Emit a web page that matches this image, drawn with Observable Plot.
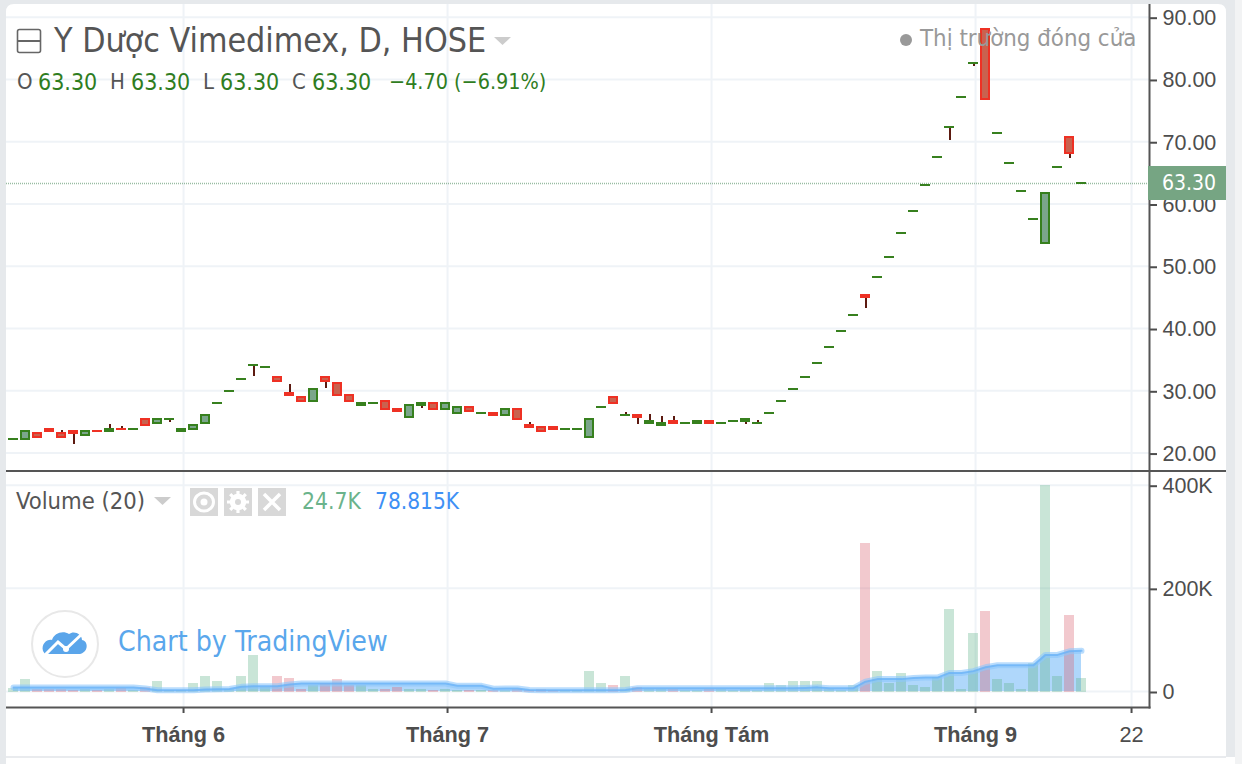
<!DOCTYPE html>
<html lang="vi">
<head>
<meta charset="utf-8">
<script src="https://cdn.jsdelivr.net/npm/d3@7"></script>
<script src="https://cdn.jsdelivr.net/npm/@observablehq/plot@0.6"></script>
<style>
html,body{margin:0;padding:0;background:#fff;overflow:hidden}
#page{position:relative;width:1242px;height:764px;overflow:hidden;background:#fff}
#page>*{position:absolute}
.t{white-space:nowrap;line-height:1;font-family:"DejaVu Sans Condensed","DejaVu Sans",sans-serif;font-stretch:condensed}
.g{color:#2f7d1f}.k{color:#555}
svg{display:block}
</style>
</head>
<body>
<div id="page"></div>
<script>
const opens  = [22.21,22.21,23.17,23.81,23.17,23.49,22.85,23.49,23.49,23.81,23.81,25.42,24.78,25.42,23.49,23.81,24.78,27.99,29.91,31.84,
  34.09,33.77,32.16,29.59,28.95,28.31,32.16,31.20,29.27,27.67,27.99,28.31,27.02,25.74,27.67,27.99,27.02,26.38,27.34,26.38,
  26.38,26.06,27.02,24.45,24.13,24.13,23.81,23.81,22.53,27.34,28.95,26.06,26.06,24.78,24.45,25.10,24.78,24.78,25.10,24.78,
  25.10,25.10,24.78,26.38,28.31,30.23,32.15,34.40,36.97,39.54,42.11,45.32,48.21,51.42,55.27,58.80,62.99,67.48,72.30,77.11,
  82.57,88.03,71.33,66.52,62.02,57.53,53.67,65.88,70.69,63.30];
const closes = [22.21,23.49,22.53,23.49,22.53,23.17,23.49,23.47,23.81,23.79,23.81,24.45,25.42,25.42,23.81,24.45,26.06,27.99,29.91,31.84,
  34.09,33.77,31.52,29.27,28.31,30.23,31.52,29.27,28.31,27.99,27.99,27.02,26.70,27.67,27.99,27.02,27.99,27.34,26.70,26.38,
  26.06,27.02,25.42,24.13,23.49,23.81,23.81,23.81,25.42,27.34,27.99,26.06,25.74,25.10,24.78,24.78,24.78,25.10,24.78,24.78,
  25.10,25.42,24.78,26.38,28.31,30.23,32.15,34.40,36.97,39.54,42.11,45.00,48.21,51.42,55.27,58.80,62.99,67.48,72.30,77.11,
  82.57,76.79,71.33,66.52,62.02,57.53,61.70,65.88,68.12,63.30];
const highWicks = [[4,23.65],[8,24.61],[9,24.29],[23,31.04],[43,24.94],[51,26.54],[53,26.22],[54,25.90],[55,25.90],[62,25.26]];
const lowWicks  = [[5,21.40],[13,24.94],[20,32.32],[26,30.39],[34,27.18],[52,24.62],[61,24.62],[71,43.23],[78,70.21],[80,82.09],[88,67.32]];
const volumes = [6.5,23,3,3,3,1,3,1,3,6.5,1,8,19,2,2,15,30,19,3,30,
  69,8,30,26,3,11,15,23,11,11,3,3,7,3,3,1,3,1,1,1,
  1,1,3,2,3,1,1,1,38,15,11,30,7,3,3,3,1,1,3,3,
  1,3,1,15,11,19,19,19,3,1,11,287,38,15,34,11,7,27,159,3,
  112,155,23,15,3,54,399,30,147,24.7];
const volumeMA = [7.8,7.8,7.8,7.8,7.8,7.8,7.8,7.8,7.8,7.8,7.8,6,2.6,2.6,2.6,2.6,4,4.5,5,9,
  10,10,10.4,13.6,15.5,15.5,15.5,15.5,15.5,15.5,15.5,15.5,15.5,15.5,15.5,15.5,15.5,11,11,11,
  5.5,5.8,5.8,3,2.6,2.6,2.6,2.6,2.6,2.6,2.6,3,6.5,6.5,6.5,6.5,6.5,6.5,6.5,6.5,
  6.5,6.5,6.5,6.5,6.5,6.5,7,8,6.5,6.5,6.5,19,24,24,24,26,27,27,36,36,
  39.5,47,51,51,51,51,71,71,78,78.8];
const priceTicks = [20,30,40,50,60,70,80,90];
const volumeTicks = [0,200,400];
const monthTicks = [14.17,36.17,58.17,80.17];
const monthLabels = ["Tháng 6","Tháng 7","Tháng Tám","Tháng 9"];
const dayTicks = [93.17];
const dayLabels = ["22"];
const lastPrice = 63.30;

const idx = d3.range(opens.length);
const down = i => closes[i] < opens[i];
const GREEN="#37801e", RED="#ee3124", GREENFILL="#7ba68b", REDFILL="#c9624f", INK="#4d4d4d", GRID="#eff3f7";
const AXISFONT='"Liberation Sans",Arial,sans-serif';
const xScale = {type:"linear",domain:[0,89],range:[13,1081]};
const allTicks = monthTicks.concat(dayTicks);
const halfOuter=5/12, halfInner=3/12;

const wickData = highWicks.map(([i,v])=>({i,from:Math.max(opens[i],closes[i]),to:v}))
  .concat(lowWicks.map(([i,v])=>({i,from:Math.min(opens[i],closes[i]),to:v})));

const axisCommon={anchor:"right",fontSize:21.5,tickSize:7,tickPadding:6,color:INK,strokeWidth:2};

const price = Plot.plot({
  width:1242,height:470,marginTop:0,marginBottom:0,marginLeft:6,marginRight:93,
  style:{background:"transparent",fontFamily:AXISFONT},
  x:Object.assign({},xScale,{axis:null}),
  y:{type:"linear",domain:[17.2,92.68],range:[470,0],axis:null},
  marks:[
    Plot.gridX({ticks:allTicks,stroke:GRID,strokeOpacity:1,strokeWidth:2}),
    Plot.gridY({ticks:priceTicks,stroke:GRID,strokeOpacity:1,strokeWidth:2}),
    Plot.ruleY([lastPrice],{stroke:"#76a583",strokeOpacity:.75,strokeWidth:1.5,strokeDasharray:"1 1"}),
    Plot.ruleX(wickData,{x:"i",y1:"from",y2:"to",stroke:"#5c1a10",strokeWidth:2,shapeRendering:"crispEdges"}),
    Plot.rect(idx,{x1:i=>i-halfOuter,x2:i=>i+halfOuter,y1:i=>opens[i],y2:i=>closes[i],
      fill:i=>down(i)?RED:GREEN,insetTop:-1,insetBottom:-1,shapeRendering:"crispEdges"}),
    Plot.rect(idx,{x1:i=>i-halfInner,x2:i=>i+halfInner,y1:i=>opens[i],y2:i=>closes[i],
      fill:i=>down(i)?REDFILL:GREENFILL,insetTop:1,insetBottom:1,shapeRendering:"crispEdges"}),
    Plot.axisY(Object.assign({},axisCommon,{ticks:priceTicks,tickFormat:d=>d.toFixed(2),dy:1})),
    Plot.frame({anchor:"right",stroke:"#555",strokeWidth:2})
  ]
});

const volume = Plot.plot({
  width:1242,height:294,marginTop:0,marginBottom:57,marginLeft:6,marginRight:93,
  style:{background:"transparent",fontFamily:AXISFONT},
  x:Object.assign({},xScale,{axis:null}),
  y:{type:"linear",domain:[0,400],range:[221,14.7],axis:null},
  marks:[
    Plot.gridX({ticks:allTicks,stroke:GRID,strokeOpacity:1,strokeWidth:2}),
    Plot.gridY({ticks:volumeTicks,stroke:GRID,strokeOpacity:1,strokeWidth:2}),
    Plot.areaY(idx,{x:i=>i,y1:0,y2:i=>volumeMA[i],fill:"#90c8fa",fillOpacity:.72}),
    Plot.rectY(idx,{x1:i=>i-halfOuter,x2:i=>i+halfOuter,y1:0,y2:i=>volumes[i],
      fill:i=>down(i)?"#d9606f":"#62b28a",fillOpacity:.34,insetBottom:-.7,shapeRendering:"crispEdges"}),
    Plot.lineY(idx,{x:i=>i,y:i=>volumeMA[i],stroke:"#8cc6fb",strokeWidth:6,strokeOpacity:.6,curve:"linear"}),
    Plot.lineY(idx,{x:i=>i,y:i=>volumeMA[i],stroke:"#6ab2f7",strokeWidth:2,strokeOpacity:.75,curve:"linear"}),
    Plot.axisY(Object.assign({},axisCommon,{ticks:volumeTicks,tickFormat:d=>d===0?"0":d+"K",dy:1})),
    Plot.axisX({ticks:monthTicks,tickFormat:(d,i)=>monthLabels[i],fontSize:21.7,fontWeight:"bold",tickSize:6,tickPadding:13,color:INK,strokeWidth:2}),
    Plot.axisX({ticks:dayTicks,tickFormat:(d,i)=>dayLabels[i],fontSize:21.7,tickSize:6,tickPadding:13,color:INK,strokeWidth:2}),
    Plot.frame({anchor:"right",stroke:"#555",strokeWidth:2}),
    Plot.frame({anchor:"bottom",stroke:"#555",strokeWidth:2})
  ]
});

const page=document.getElementById("page");
function el(html){const t=document.createElement("template");t.innerHTML=html.trim();const n=t.content.firstChild;page.appendChild(n);return n;}
function place(node,l,t){node.style.left=l+"px";node.style.top=t+"px";page.appendChild(node);}
place(price,0,0);
place(volume,0,470);

// card chrome
const CH="#e6e9ec";
el(`<div style="left:0;top:0;width:1242px;height:4px;background:${CH}"></div>`);
el(`<div style="left:0;top:0;width:6px;height:764px;background:${CH}"></div>`);
el(`<div style="left:1226px;top:0;width:9px;height:757px;background:${CH}"></div>`);
el(`<div style="left:1235px;top:0;width:7px;height:764px;background:#f2f3f4"></div>`);
el(`<div style="left:6px;top:756px;width:1220px;height:2px;background:#e9ebee"></div>`);
el(`<div style="left:6px;top:470px;width:1220px;height:2px;background:#555"></div>`);
el(`<svg style="left:6px;top:4px" width="1220" height="10"><path d="M0 0H8Q0 0 0 8Z" fill="${CH}"/><path d="M1220 0H1212Q1220 0 1220 8Z" fill="${CH}"/></svg>`);

// last price tag
el(`<div class="t" style="left:1148px;top:166px;width:78px;height:34px;background:#76a583;color:#fff;font-size:21px;line-height:34px;text-indent:14px">${lastPrice.toFixed(2)}</div>`);

// title
el(`<svg style="left:16px;top:28px" width="26" height="26"><rect x="1.5" y="1.5" width="23" height="23" rx="2" fill="none" stroke="#666" stroke-width="1.6"/><path d="M1.5 13H24.5" stroke="#666" stroke-width="2"/></svg>`);
el(`<div class="t" style="left:54px;top:24px;font-size:33.7px;color:#555">Y Dược Vimedimex, D, HOSE</div>`);
el(`<svg style="left:494px;top:37px" width="17" height="9"><path d="M0 0H17L8.5 8Z" fill="#ccc"/></svg>`);

// market closed
el(`<svg style="left:899px;top:33px" width="14" height="14"><circle cx="7" cy="7" r="6" fill="#999"/></svg>`);
el(`<div class="t" style="left:920px;top:27px;font-size:23.8px;color:#999">Thị trường đóng cửa</div>`);

// OHLC row
[["O",17,"k",22],["63.30",38,"g",23],["H",110,"k",22],["63.30",131,"g",23],["L",203,"k",22],["63.30",220,"g",23],["C",292,"k",22],["63.30",312,"g",23],["−4.70 (−6.91%)",389,"g",21.4]]
 .forEach(([s,l,c,f])=>el(`<div class="t ${c}" style="left:${l}px;top:71px;font-size:${f}px">${s}</div>`));

// volume row
el(`<div class="t" style="left:16px;top:490px;font-size:23.6px;color:#555">Volume (20)</div>`);
el(`<svg style="left:154px;top:497px" width="17" height="9"><path d="M0 0H17L8.5 8Z" fill="#ccc"/></svg>`);
const btn=(l,inner)=>el(`<svg style="left:${l}px;top:488px" width="28" height="28"><rect width="28" height="28" fill="#d8d8d8"/>${inner}</svg>`);
btn(190,`<ellipse cx="14" cy="14" rx="9.5" ry="9" fill="none" stroke="#fff" stroke-width="3"/><circle cx="14" cy="14" r="3.5" fill="#fff"/>`);
btn(224,`<circle cx="14" cy="14" r="6" fill="none" stroke="#fff" stroke-width="4.5"/><path d="M14 3V25M3 14H25M6.2 6.2L21.8 21.8M21.8 6.2L6.2 21.8" stroke="#fff" stroke-width="3.2"/><circle cx="14" cy="14" r="3" fill="#d8d8d8"/>`);
btn(258,`<path d="M6 6L22 22M22 6L6 22" stroke="#fff" stroke-width="3.5"/>`);
el(`<div class="t" style="left:302px;top:490px;font-size:22.7px;color:#6bb38b">24.7K</div>`);
el(`<div class="t" style="left:375px;top:490px;font-size:22.5px;color:#3e90f5">78.815K</div>`);

// logo
el(`<svg style="left:30px;top:609px" width="70" height="70"><circle cx="35" cy="35" r="33" fill="#fff" stroke="#e8e8e8" stroke-width="2"/>
<path d="M13 42C11 35 17 30 22 31C24 24 33 21 39 25C44 21 52 25 52 31C57 32 58 38 55 42C53 44 51 45 50 45H22L15 45Z" fill="#5aa5ea"/>
<path d="M15 46L28 33L36 40L52 25" fill="none" stroke="#fff" stroke-width="3"/><circle cx="36" cy="40" r="3" fill="#fff"/></svg>`);
el(`<div class="t" style="left:118px;top:628px;font-size:28.2px;color:#5aa7ec">Chart by TradingView</div>`);
</script>
</body>
</html>
